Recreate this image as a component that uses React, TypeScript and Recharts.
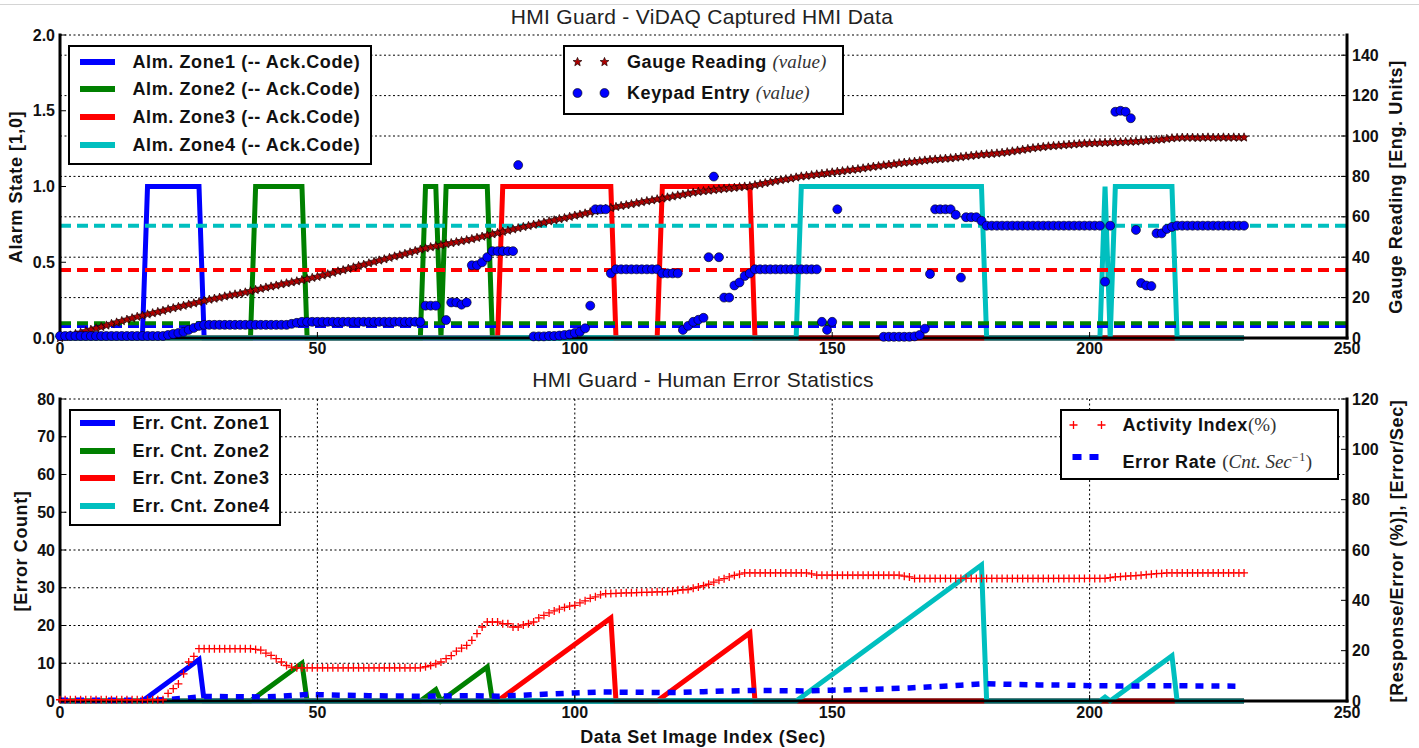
import React from "react";
import { ComposedChart, Line, XAxis, YAxis, CartesianGrid } from "recharts";

const SANS = '"Liberation Sans", Arial, Helvetica, sans-serif';
const SERIF = '"Liberation Serif", "DejaVu Serif", serif';

const xTicks = [0, 50, 100, 150, 200, 250];
const alarmTicks = [0, 0.5, 1, 1.5, 2];
const gaugeTicks = [0, 20, 40, 60, 80, 100, 120, 140];
const countTicks = [0, 10, 20, 30, 40, 50, 60, 70, 80];
const rateTicks = [0, 20, 40, 60, 80, 100, 120];

const zoneNames = ["Zone1", "Zone2", "Zone3", "Zone4"];
const zoneColors = ["#0000ff", "#008000", "#ff0000", "#00bfbf"];

// alarm state per zone, [image index, state]
const almZone1 = [[0, 0], [16, 0], [17, 1], [27, 1], [28, 0], [230, 0]];
const almZone2 = [[0, 0], [37, 0], [38, 1], [47, 1], [48, 0], [70, 0], [71, 1], [73, 1], [74, 0], [75, 1], [83, 1], [84, 0], [230, 0]];
const almZone3 = [[0, 0], [85, 0], [86, 1], [107, 1], [108, 0], [116, 0], [117, 1], [134, 1], [135, 0], [230, 0]];
const almZone4 = [[0, 0], [143, 0], [144, 1], [179, 1], [180, 0], [202, 0], [203, 1], [204, 0], [205, 1], [216, 1], [217, 0], [230, 0]];

// ack code level per zone (eng. units)
const ackCodes = [5.9, 7.3, 33.7, 55.6];

// gauge reading, one per image index 0..230
const gauge = [
  0, 0.6, 1.3, 2, 2.7, 3.4, 4.1, 4.8, 5.5, 6.2,
  7, 7.7, 8.4, 9.1, 9.8, 10.5, 11.1, 11.7, 12.3, 12.9,
  13.5, 14.2, 14.8, 15.4, 16, 16.6, 17.2, 17.8, 18.4, 19,
  19.5, 20, 20.6, 21.1, 21.6, 22, 22.6, 23.2, 23.8, 24.4,
  25, 25.5, 26, 26.6, 27.1, 27.6, 28.1, 28.7, 29.2, 29.8,
  30.3, 31, 31.6, 32.3, 33, 33.6, 34.3, 35, 35.7, 36.3,
  37, 37.7, 38.4, 39, 39.7, 40.4, 41, 41.7, 42.4, 43.1,
  43.8, 44.4, 45, 45.5, 46, 46.5, 47, 47.5, 48, 48.5,
  49, 49.6, 50.2, 50.8, 51.4, 52, 52.6, 53.2, 53.8, 54.4,
  55, 55.5, 56.1, 56.6, 57.2, 57.8, 58.3, 58.9, 59.4, 60,
  60.6, 61.1, 61.7, 62.3, 62.8, 63.4, 63.9, 64.4, 64.9, 65.4,
  65.8, 66.3, 66.8, 67.3, 67.8, 68.2, 68.7, 69.1, 69.6, 70.1,
  70.6, 71, 71.5, 72, 72.4, 72.7, 73, 73.3, 73.6, 73.9,
  74.1, 74.4, 74.7, 75, 75.2, 75.7, 76.2, 76.7, 77.2, 77.7,
  78.2, 78.6, 79, 79.5, 80, 80.3, 80.6, 81, 81.3, 81.6,
  82, 82.3, 82.6, 83, 83.3, 83.6, 84, 84.4, 84.8, 85.1,
  85.5, 85.8, 86.1, 86.5, 86.8, 87.1, 87.3, 87.6, 87.9, 88.2,
  88.4, 88.6, 88.8, 89, 89.3, 89.6, 89.9, 90.2, 90.5, 90.8,
  91, 91.2, 91.4, 91.7, 92, 92.4, 92.8, 93.2, 93.6, 94,
  94.3, 94.6, 94.9, 95.1, 95.3, 95.5, 95.7, 95.9, 96.1, 96.3,
  96.4, 96.5, 96.6, 96.7, 96.8, 96.9, 97, 97.1, 97.2, 97.3,
  97.5, 97.7, 97.9, 98.1, 98.3, 98.6, 98.9, 99.1, 99.2, 99.2,
  99.2, 99.1, 99.2, 99.3, 99.2, 99.2, 99.3, 99.2, 99.3, 99.2,
  99.3,
];

// keypad entry, one per image index 0..230 (null = no entry)
const keypad = [
  1, 1, 1, 1, 1, 1, 1, 1, 1, 1,
  1, 1, 1, 1, 1, 1, 1, 1, 1, 1,
  1, 1.5, 2, 2.5, 3, 4, 5, 6, 6.5, 6.5,
  6.5, 6.5, 6.5, 6.5, 6.5, 6.5, 6.5, 6.5, 6.5, 6.5,
  6.5, 6.5, 6.5, 6.5, 6.5, 7, 7.5, 8, 8, 8,
  8, 8, 8, 8, 8, 8, 8, 8, 8, 8,
  8, 8, 8, 8, 8, 8, 8, 8, 8, 8,
  8, 16, 16, 16, null, 8.9, 17.6, 17.6, 16.5, 17.6,
  36, 36, 37.5, 40, 43, 43, 43, 43, 43, 85.6,
  null, null, 0.8, 0.8, 0.8, 1, 1, 1.2, 1.5, 1.8,
  2.5, 3.1, 4.8, 16, 63.7, 63.7, 63.7, 32, 34, 34,
  34, 34, 34, 34, 34, 34, 34, 32, 32, 32,
  32, 4, 6, 8, 9, 10, 40, 79.9, 40, 20,
  20, 26, 27.5, 30.7, 32, 34, 34, 34, 34, 34,
  34, 34, 34, 34, 34, 34, 34, 34, 8, 4,
  8, 63.7, null, null, null, null, null, null, null, null,
  0.6, 0.6, 0.6, 0.6, 0.6, 0.6, 0.8, 1.5, 4.6, 31.7,
  63.7, 63.7, 63.7, 63.7, 61, 29.9, 59.8, 59.8, 59.8, 58,
  55.6, 55.6, 55.6, 55.6, 55.6, 55.6, 55.6, 55.6, 55.6, 55.6,
  55.6, 55.6, 55.6, 55.6, 55.6, 55.6, 55.6, 55.6, 55.6, 55.6,
  55.6, 55.6, 55.6, 27.9, 55.6, 112, 112.5, 112, 108.8, 53.5,
  27.2, 26, 25.7, 51.8, 51.8, 54, 55, 55.6, 55.6, 55.6,
  55.6, 55.6, 55.6, 55.6, 55.6, 55.6, 55.6, 55.6, 55.6, 55.6,
  55.6,
];

// error count per zone, [image index, count]
const errZone1 = [[0, 0], [16, 0], [27, 11], [28, 0], [230, 0]];
const errZone2 = [[0, 0], [37, 0], [47, 10], [48, 0], [70, 0], [73, 3], [74, 0], [83, 9], [84, 0], [230, 0]];
const errZone3 = [[0, 0], [85, 0], [107, 22], [108, 0], [116, 0], [134, 18], [135, 0], [230, 0]];
const errZone4 = [[0, 0], [143, 0], [179, 36], [180, 0], [202, 0], [203, 1], [204, 0], [216, 12], [217, 0], [230, 0]];

// activity index (%), one per image index 0..230
const activity = [
  0.5, 0.5, 0.5, 0.5, 0.5, 0.5, 0.5, 0.5, 0.5, 0.5,
  0.5, 0.5, 0.5, 0.5, 0.5, 0.5, 0.5, 0.5, 0.5, 0.5,
  0.5, 3, 4.9, 6.8, 10.8, 15.5, 17.7, 20.8, 20.8, 20.8,
  20.8, 20.8, 20.8, 20.8, 20.8, 20.8, 20.8, 20.8, 20.5, 20.2,
  19, 18.1, 16.8, 15.5, 14.1, 13.5, 13.2, 13.2, 13.2, 13.2,
  13.2, 13.2, 13.2, 13.2, 13.2, 13.2, 13.2, 13.2, 13.2, 13.2,
  13.2, 13.2, 13.2, 13.2, 13.2, 13.2, 13.2, 13.2, 13.2, 13.2,
  13.2, 13.6, 14.1, 14.8, 15.5, 16.8, 18, 19.8, 21, 22.1,
  24.1, 26.8, 29.4, 31.4, 31.4, 31.4, 30.7, 30.7, 29.4, 29.4,
  30.2, 30.7, 31.4, 33, 34, 35, 35.8, 36.5, 37.2, 37.7,
  38, 39, 39.8, 40.8, 41.4, 42.2, 42.7, 42.7, 42.8, 42.9,
  43, 43, 43.1, 43.2, 43.2, 43.3, 43.4, 43.4, 43.5, 43.6,
  44, 44.2, 44.3, 44.8, 45.3, 45.8, 46.4, 47.2, 48, 48.6,
  49.3, 49.9, 50.4, 50.9, 50.9, 50.9, 50.9, 50.9, 50.9, 50.9,
  50.9, 50.9, 50.9, 50.9, 50.9, 50.9, 50.5, 50, 50, 50,
  50, 50, 50, 50, 50, 50, 50, 50, 50, 50,
  50, 50, 50, 50, 49.6, 49.3, 48.7, 48.7, 48.7, 48.7,
  48.7, 48.7, 48.7, 48.7, 48.7, 48.7, 48.7, 48.7, 48.7, 48.7,
  48.7, 48.7, 48.7, 48.7, 48.7, 48.7, 48.7, 48.7, 48.7, 48.7,
  48.7, 48.7, 48.7, 48.7, 48.7, 48.7, 48.7, 48.7, 48.7, 48.7,
  48.7, 48.7, 48.7, 48.7, 49, 49.3, 49.4, 49.6, 49.7, 49.8,
  50, 50.2, 50.4, 50.6, 50.7, 50.9, 50.9, 50.9, 50.9, 50.9,
  50.9, 50.9, 50.9, 50.9, 50.9, 50.9, 50.9, 50.9, 50.9, 50.9,
  50.9,
];

// error rate (cnt/sec)
const rateIndex = [0, 10, 18, 20, 25, 28, 35, 40, 45, 48, 55, 60, 70, 75, 80, 85, 90, 95, 100, 105, 110, 115, 120, 125, 130, 135, 140, 145, 150, 155, 160, 165, 170, 175, 180, 185, 190, 195, 200, 205, 210, 215, 220, 229];
const rateValue = [0.3, 0.3, 0.3, 0.5, 1.2, 1.8, 1.7, 1.6, 2.2, 2.6, 2.3, 2.1, 1.9, 2.0, 2.1, 1.9, 2.3, 2.8, 3.2, 3.6, 3.5, 3.4, 3.4, 3.7, 4.0, 4.2, 4.1, 4.0, 4.3, 4.5, 4.8, 5.2, 5.7, 6.3, 6.9, 6.6, 6.4, 6.3, 6.1, 6.0, 6.0, 6.1, 6.0, 5.9];

const pairs = (p: number[][]) => p.map(([x, v]) => ({ x, v }));
const perIndex = (arr: (number | null)[]) => arr.map((v, i) => ({ x: i, v }));

const almData = [almZone1, almZone2, almZone3, almZone4].map(pairs);
const errData = [errZone1, errZone2, errZone3, errZone4].map(pairs);
const ackData = ackCodes.map((v) => [{ x: 0, v }, { x: 250, v }]);
const gaugeData = perIndex(gauge);
const keypadData = perIndex(keypad);
const activityData = perIndex(activity);
const rateData = rateIndex.map((x, i) => ({ x, v: rateValue[i] }));

function starPath(cx: number, cy: number, R: number, r: number) {
  let d = "";
  for (let k = 0; k < 10; k++) {
    const rad = k % 2 ? r : R;
    const a = -Math.PI / 2 + (k * Math.PI) / 5;
    d += (k ? "L" : "M") + (cx + rad * Math.cos(a)).toFixed(2) + "," + (cy + rad * Math.sin(a)).toFixed(2);
  }
  return d + "Z";
}

const StarDot = (p: any) => {
  if (p.cy == null || p.value == null) return <g key={`s${p.index}`} />;
  return <path key={`s${p.index}`} d={starPath(p.cx, p.cy, 4.6, 2)} fill="#b00000" stroke="#1a0000" strokeWidth={0.7} />;
};

const CircleDot = (p: any) => {
  if (p.cy == null || p.value == null) return <g key={`c${p.index}`} />;
  return <circle key={`c${p.index}`} cx={p.cx} cy={p.cy} r={4.5} fill="#0000ff" stroke="#000" strokeWidth={0.6} />;
};

const PlusDot = (p: any) => {
  if (p.cy == null || p.value == null) return <g key={`p${p.index}`} />;
  return (
    <path key={`p${p.index}`} d={`M${p.cx - 4},${p.cy}H${p.cx + 4}M${p.cx},${p.cy - 4}V${p.cy + 4}`} stroke="#ff0000" strokeWidth={1.3} fill="none" />
  );
};

const tickStyle = { fontSize: 16, fontWeight: 700, fill: "#111", fontFamily: SANS };
const frame = { stroke: "#000", strokeWidth: 3, strokeLinecap: "square" as const };

function RotLabel({ x, y, children }: { x: number; y: number; children: React.ReactNode }) {
  return (
    <div
      style={{
        position: "absolute", left: x, top: y, transform: "translate(-50%,-50%) rotate(-90deg)",
        whiteSpace: "nowrap", fontSize: 18, fontWeight: 700, letterSpacing: 0.6, color: "#111",
      }}
    >
      {children}
    </div>
  );
}

function Title({ x, y, children }: { x: number; y: number; children: React.ReactNode }) {
  return (
    <div
      style={{
        position: "absolute", left: x, top: y, transform: "translate(-50%,-50%)",
        whiteSpace: "nowrap", fontSize: 21, letterSpacing: 0.3, color: "#222",
      }}
    >
      {children}
    </div>
  );
}

function LegendBox({ left, top, width, height, children }: any) {
  return (
    <div
      style={{
        position: "absolute", left, top, width, height, boxSizing: "border-box",
        border: "2.5px solid #000", background: "#fff", zIndex: 5,
      }}
    >
      {children}
    </div>
  );
}

function Row({ y, mx, tx, marker, children }: any) {
  return (
    <div style={{ position: "absolute", left: 0, top: y - 12, height: 24, width: "100%" }}>
      <svg style={{ position: "absolute", left: mx, top: 0 }} width={50} height={24}>
        {marker}
      </svg>
      <div
        style={{
          position: "absolute", left: tx, top: 0, lineHeight: "24px", whiteSpace: "nowrap",
          fontSize: 18, fontWeight: 700, letterSpacing: 0.6, color: "#111",
        }}
      >
        {children}
      </div>
    </div>
  );
}

const MathTxt = ({ children, italic = true }: any) => (
  <span style={{ fontFamily: SERIF, fontStyle: italic ? "italic" : "normal", fontWeight: 400, fontSize: 19, letterSpacing: 0, color: "#333" }}>
    {children}
  </span>
);

const swatch = (color: string) => <rect x={0} y={9} width={35} height={6} fill={color} />;

export default function App() {
  return (
    <div style={{ position: "absolute", left: 0, top: 0, width: 1419, height: 748, background: "#fff", fontFamily: SANS, overflow: "hidden" }}>
      <div style={{ position: "absolute", left: 0, top: 4, width: 1419, height: 1, background: "#d4d4d4" }} />

      {/* top chart: captured HMI data */}
      <div style={{ position: "absolute", left: 0, top: 0 }}>
        <ComposedChart width={1419} height={370} margin={{ top: 35, right: 0, bottom: 0, left: 0 }}>
          <CartesianGrid xAxisId="b" yAxisId="right" vertical={false} stroke="#000" strokeDasharray="2 2.5" />
          <XAxis xAxisId="b" dataKey="x" type="number" domain={[0, 250]} ticks={xTicks} interval={0} height={32}
            axisLine={frame} tickLine={{ stroke: "#000" }} tickSize={-6} tickMargin={11} tick={tickStyle} />
          <XAxis xAxisId="t" orientation="top" dataKey="x" type="number" domain={[0, 250]} ticks={xTicks} interval={0} height={0}
            axisLine={frame} tickLine={{ stroke: "#000" }} tickSize={-6} tickFormatter={() => ""} />
          <YAxis yAxisId="left" orientation="left" type="number" domain={[0, 2]} ticks={alarmTicks} interval={0} width={60}
            axisLine={frame} tickLine={{ stroke: "#000" }} tickSize={-6} tickMargin={11} tick={tickStyle}
            tickFormatter={(v: number) => v.toFixed(1)} />
          <YAxis yAxisId="right" orientation="right" type="number" domain={[0, 150]} ticks={gaugeTicks} interval={0} width={72}
            axisLine={frame} tickLine={{ stroke: "#000" }} tickSize={-6} tickMargin={11} tick={tickStyle} />
          {almData.map((d, i) => (
            <Line key={`alm${i}`} data={d} dataKey="v" xAxisId="b" yAxisId="left" type="linear" stroke={zoneColors[i]}
              strokeWidth={5} dot={false} activeDot={false} isAnimationActive={false} />
          ))}
          <Line data={gaugeData} dataKey="v" xAxisId="b" yAxisId="right" stroke="none" dot={StarDot} activeDot={false} isAnimationActive={false} />
          <Line data={keypadData} dataKey="v" xAxisId="b" yAxisId="right" stroke="none" dot={CircleDot} activeDot={false} isAnimationActive={false} />
          {ackData.map((d, i) => (
            <Line key={`ack${i}`} data={d} dataKey="v" xAxisId="b" yAxisId="right" stroke={zoneColors[i]} strokeWidth={4}
              strokeDasharray="11 6" dot={false} activeDot={false} isAnimationActive={false} />
          ))}
        </ComposedChart>
      </div>

      {/* bottom chart: human error statistics */}
      <div style={{ position: "absolute", left: 0, top: 370 }}>
        <ComposedChart width={1419} height={378} margin={{ top: 29, right: 0, bottom: 0, left: 0 }}>
          <CartesianGrid xAxisId="b" yAxisId="left" stroke="#000" strokeDasharray="2 2.5" />
          <XAxis xAxisId="b" dataKey="x" type="number" domain={[0, 250]} ticks={xTicks} interval={0} height={47}
            axisLine={frame} tickLine={{ stroke: "#000" }} tickSize={-6} tickMargin={12} tick={tickStyle} />
          <XAxis xAxisId="t" orientation="top" dataKey="x" type="number" domain={[0, 250]} ticks={xTicks} interval={0} height={0}
            axisLine={frame} tickLine={{ stroke: "#000" }} tickSize={-6} tickFormatter={() => ""} />
          <YAxis yAxisId="left" orientation="left" type="number" domain={[0, 80]} ticks={countTicks} interval={0} width={60}
            axisLine={frame} tickLine={{ stroke: "#000" }} tickSize={-6} tickMargin={11} tick={tickStyle} />
          <YAxis yAxisId="right" orientation="right" type="number" domain={[0, 120]} ticks={rateTicks} interval={0} width={72}
            axisLine={frame} tickLine={{ stroke: "#000" }} tickSize={-6} tickMargin={11} tick={tickStyle} />
          {errData.map((d, i) => (
            <Line key={`err${i}`} data={d} dataKey="v" xAxisId="b" yAxisId="left" type="linear" stroke={zoneColors[i]}
              strokeWidth={5} dot={false} activeDot={false} isAnimationActive={false} />
          ))}
          <Line data={activityData} dataKey="v" xAxisId="b" yAxisId="right" stroke="none" dot={PlusDot} activeDot={false} isAnimationActive={false} />
          <Line data={rateData} dataKey="v" xAxisId="b" yAxisId="right" type="linear" stroke="#0000ff" strokeWidth={5.5}
            strokeDasharray="8 8" dot={false} activeDot={false} isAnimationActive={false} />
        </ComposedChart>
      </div>

      <Title x={702} y={17}>HMI Guard - ViDAQ Captured HMI Data</Title>
      <Title x={703} y={380}>HMI Guard - Human Error Statistics</Title>

      <RotLabel x={16} y={187}>Alarm State [1,0]</RotLabel>
      <RotLabel x={1396} y={187}>Gauge Reading [Eng. Units]</RotLabel>
      <RotLabel x={21} y={551}>[Error Count]</RotLabel>
      <RotLabel x={1397} y={551}>[Response/Error (%)], [Error/Sec]</RotLabel>
      <div style={{ position: "absolute", left: 703, top: 737, transform: "translate(-50%,-50%)", whiteSpace: "nowrap", fontSize: 18, fontWeight: 700, letterSpacing: 0.6, color: "#111" }}>
        Data Set Image Index (Sec)
      </div>

      <LegendBox left={68} top={45} width={304} height={120}>
        {zoneNames.map((z, i) => (
          <Row key={z} y={14.5 + i * 27.7} mx={9.5} tx={62.5} marker={swatch(zoneColors[i])}>
            Alm. {z} (-- Ack.Code)
          </Row>
        ))}
      </LegendBox>

      <LegendBox left={563} top={45} width={281} height={70}>
        <Row y={14.5} mx={0} tx={62} marker={<>
          <path d={starPath(12.5, 12, 4.6, 2)} fill="#b00000" stroke="#1a0000" strokeWidth={0.7} />
          <path d={starPath(39.5, 12, 4.6, 2)} fill="#b00000" stroke="#1a0000" strokeWidth={0.7} />
        </>}>
          Gauge Reading <MathTxt>(value)</MathTxt>
        </Row>
        <Row y={45.5} mx={0} tx={62} marker={<>
          <circle cx={12.5} cy={12} r={4.5} fill="#0000ff" stroke="#000" strokeWidth={0.6} />
          <circle cx={39.5} cy={12} r={4.5} fill="#0000ff" stroke="#000" strokeWidth={0.6} />
        </>}>
          Keypad Entry <MathTxt>(value)</MathTxt>
        </Row>
      </LegendBox>

      <LegendBox left={69} top={409} width={212} height={117}>
        {zoneNames.map((z, i) => (
          <Row key={z} y={11.8 + i * 27.8} mx={8.5} tx={61.5} marker={swatch(zoneColors[i])}>
            Err. Cnt. {z}
          </Row>
        ))}
      </LegendBox>

      <LegendBox left={1060} top={409} width={279} height={71}>
        <Row y={14.2} mx={0} tx={60.5} marker={<>
          <path d="M7.5,12H15.5M11.5,8V16" stroke="#ff0000" strokeWidth={1.3} />
          <path d="M35.5,12H43.5M39.5,8V16" stroke="#ff0000" strokeWidth={1.3} />
        </>}>
          Activity Index<MathTxt italic={false}>(%)</MathTxt>
        </Row>
        <Row y={45.5} mx={0} tx={60.5} marker={<>
          <rect x={10.5} y={9} width={9} height={6} fill="#0000ff" />
          <rect x={27.5} y={9} width={9} height={6} fill="#0000ff" />
        </>}>
          Error Rate <MathTxt italic={false}>(</MathTxt><MathTxt>Cnt. Sec</MathTxt>
          <sup style={{ fontFamily: SERIF, fontWeight: 400, fontSize: 12, color: "#333" }}>−1</sup>
          <MathTxt italic={false}>)</MathTxt>
        </Row>
      </LegendBox>
    </div>
  );
}
